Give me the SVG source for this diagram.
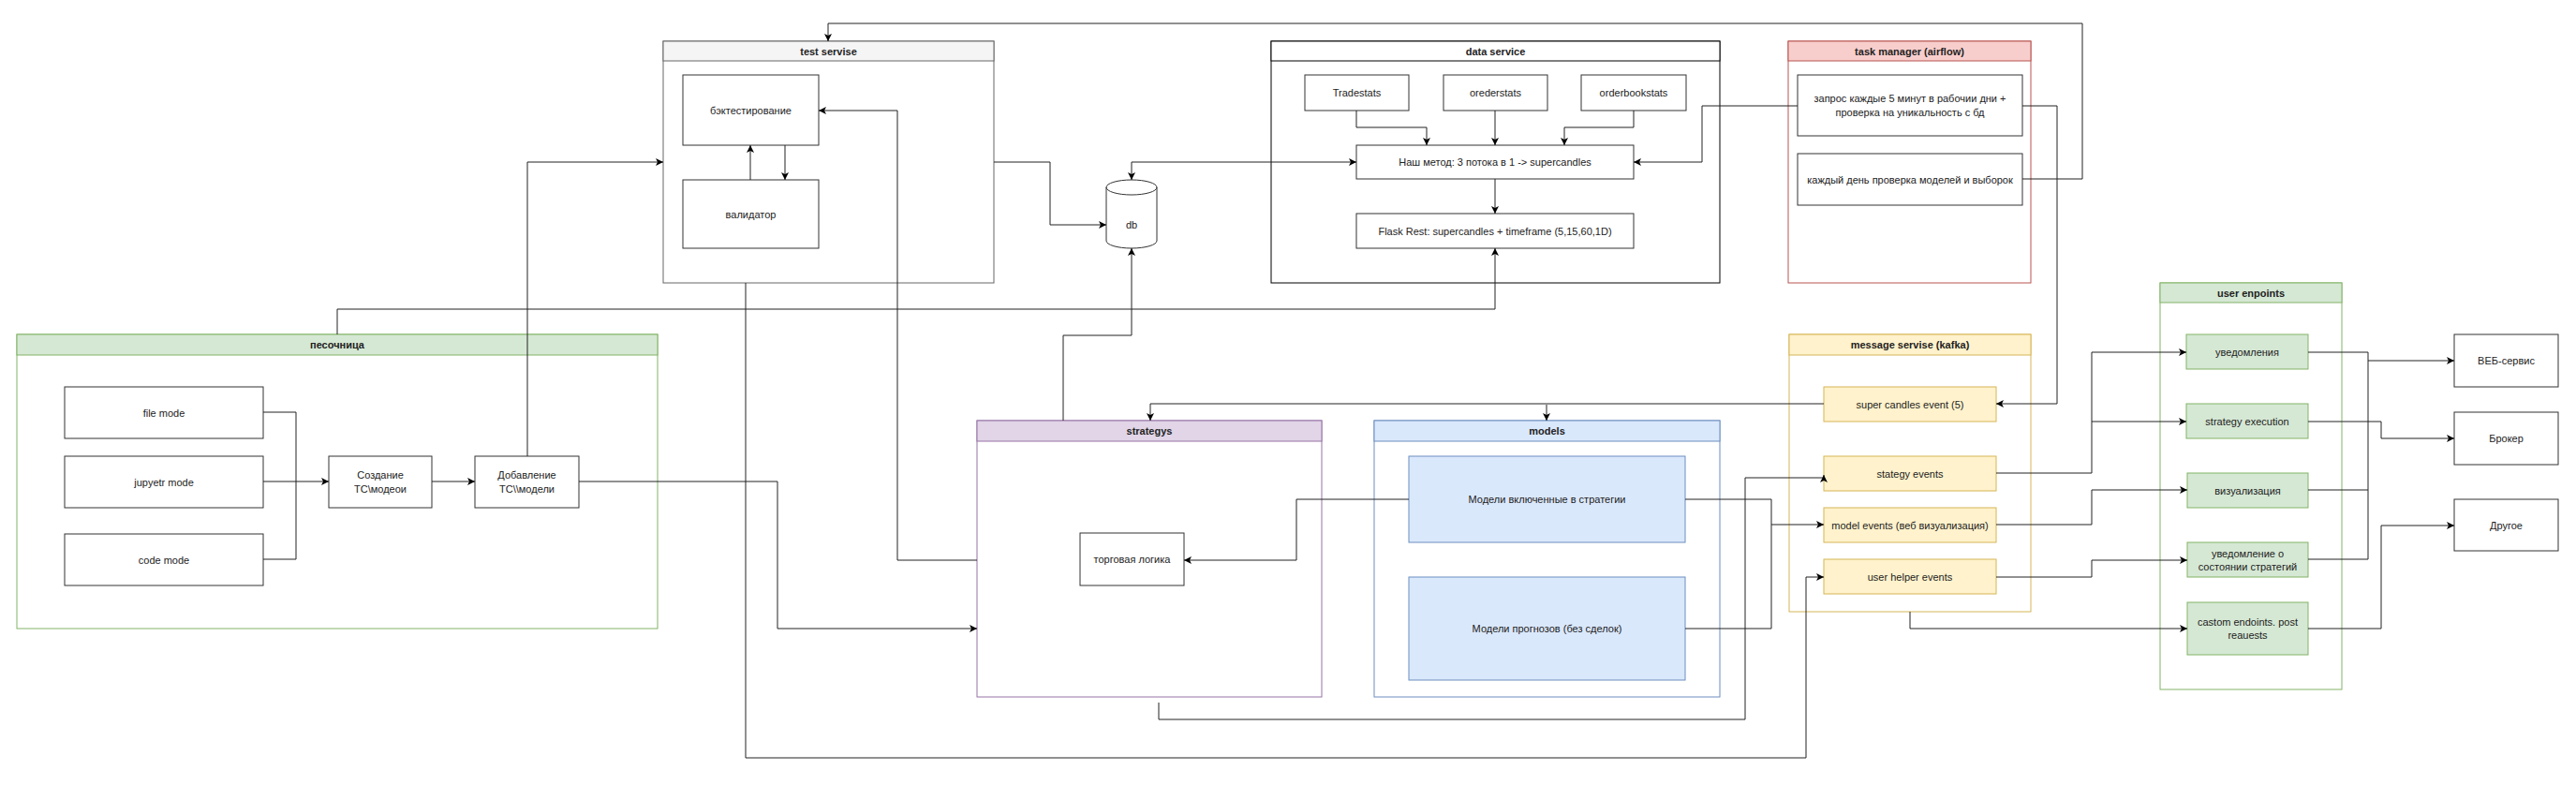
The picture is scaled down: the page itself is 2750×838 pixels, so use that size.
<svg xmlns="http://www.w3.org/2000/svg" width="2750" height="838" viewBox="0 0 2750 838">
<style>
text{font-family:"Liberation Sans",Arial,sans-serif;font-size:11px;fill:#222;text-anchor:middle;dominant-baseline:central}
.h{font-weight:bold}
.box{fill:#fff;stroke:#333;stroke-width:1}
.c path{fill:none;stroke:#222;stroke-width:1;marker-end:url(#a)}
.c path.n{marker-end:none}
.gray{fill:#f5f5f5;stroke:#666}
.plain{fill:#fff;stroke:#000}
.red{fill:#f8cecc;stroke:#b85450}
.green{fill:#d5e8d4;stroke:#82b366}
.purple{fill:#e1d5e7;stroke:#9673a6}
.blue{fill:#dae8fc;stroke:#6c8ebf}
.yellow{fill:#fff2cc;stroke:#d6b656}
.body{fill:#fff}
</style>
<defs>
<marker id="a" markerUnits="userSpaceOnUse" markerWidth="8" markerHeight="8" refX="8" refY="4" orient="auto-start-reverse">
<path d="M0,0 L8,4 L0,8 L2,4 z" fill="#000"/>
</marker>
</defs>
<rect width="2750" height="838" fill="#fff"/>

<g id="test-servise">
<rect x="708" y="44" width="353" height="258" fill="#fff" stroke="#666"/>
<rect x="708" y="44" width="353" height="21" class="gray"/>
<text x="884.5" y="54.5" class="h">test servise</text>
</g>
<g id="backtest"><rect x="729" y="80" width="145" height="75" class="box"/><text x="801.5" y="117.5">бэктестирование</text></g>
<g id="validator"><rect x="729" y="192" width="145" height="73" class="box"/><text x="801.5" y="228.5">валидатор</text></g>

<g id="data-service">
<rect x="1357" y="44" width="479" height="258" fill="#fff" stroke="#000"/>
<rect x="1357" y="44" width="479" height="21" class="plain"/>
<text x="1596.5" y="54.5" class="h">data service</text>
</g>
<g id="tradestats"><rect x="1393" y="80" width="111" height="38" class="box"/><text x="1448.5" y="99">Tradestats</text></g>
<g id="orederstats"><rect x="1541" y="80" width="111" height="38" class="box"/><text x="1596.5" y="99">orederstats</text></g>
<g id="orderbookstats"><rect x="1688" y="80" width="112" height="38" class="box"/><text x="1744" y="99">orderbookstats</text></g>
<g id="method"><rect x="1448" y="155" width="296" height="36" class="box"/><text x="1596" y="173">Наш метод: 3 потока в 1 -&gt; supercandles</text></g>
<g id="flask"><rect x="1448" y="228" width="296" height="37" class="box"/><text x="1596" y="246.5">Flask Rest: supercandles + timeframe (5,15,60,1D)</text></g>

<g id="task-manager">
<rect x="1909" y="44" width="259" height="258" fill="#fff" stroke="#b85450"/>
<rect x="1909" y="44" width="259" height="21" class="red"/>
<text x="2038.5" y="54.5" class="h">task manager (airflow)</text>
</g>
<g id="tm-request"><rect x="1919" y="80" width="240" height="65" class="box"/><text x="2039" y="105">запрос каждые 5 минут в рабочии дни +</text><text x="2039" y="120">проверка на уникальность с бд</text></g>
<g id="tm-daily"><rect x="1919" y="164" width="240" height="55" class="box"/><text x="2039" y="191.5">каждый день проверка моделей и выборок</text></g>

<g id="db">
<path d="M1181,200 A27,8 0 0 1 1235,200 V257 A27,8 0 0 1 1181,257 Z" fill="#fff" stroke="#333"/>
<path d="M1181,200 A27,8 0 0 0 1235,200" fill="none" stroke="#333"/>
<text x="1208" y="240">db</text>
</g>

<g id="pesochnitsa">
<rect x="18" y="357" width="684" height="314" fill="#fff" stroke="#82b366"/>
<rect x="18" y="357" width="684" height="22" class="green"/>
<text x="360" y="368" class="h">песочница</text>
</g>
<g id="file-mode"><rect x="69" y="413" width="212" height="55" class="box"/><text x="175" y="440.5">file mode</text></g>
<g id="jupyetr-mode"><rect x="69" y="487" width="212" height="55" class="box"/><text x="175" y="514.5">jupyetr  mode</text></g>
<g id="code-mode"><rect x="69" y="570" width="212" height="55" class="box"/><text x="175" y="597.5">code mode</text></g>
<g id="create"><rect x="351" y="487" width="110" height="55" class="box"/><text x="406" y="507">Создание</text><text x="406" y="522">ТС\модеои</text></g>
<g id="add"><rect x="507" y="487" width="111" height="55" class="box"/><text x="562.5" y="507">Добавление</text><text x="562.5" y="522">ТС\\модели</text></g>

<g id="strategys">
<rect x="1043" y="449" width="368" height="295" fill="#fff" stroke="#9673a6"/>
<rect x="1043" y="449" width="368" height="22" class="purple"/>
<text x="1227" y="460" class="h">strategys</text>
</g>
<g id="trade-logic"><rect x="1153" y="569" width="111" height="56" class="box"/><text x="1208.5" y="597">торговая логика</text></g>

<g id="models">
<rect x="1467" y="449" width="369" height="295" fill="#fff" stroke="#6c8ebf"/>
<rect x="1467" y="449" width="369" height="22" class="blue"/>
<text x="1651.5" y="460" class="h">models</text>
</g>
<g id="models-in-strategy"><rect x="1504" y="487" width="295" height="92" class="blue"/><text x="1651.5" y="533">Модели включенные в стратегии</text></g>
<g id="models-forecast"><rect x="1504" y="616" width="295" height="110" class="blue"/><text x="1651.5" y="671">Модели прогнозов (без сделок)</text></g>

<g id="kafka">
<rect x="1910" y="357" width="258" height="296" fill="#fff" stroke="#d6b656"/>
<rect x="1910" y="357" width="258" height="22" class="yellow"/>
<text x="2039" y="368" class="h">message servise (kafka)</text>
</g>
<g id="super-candles"><rect x="1947" y="413" width="184" height="37" class="yellow"/><text x="2039" y="431.5">super candles event (5)</text></g>
<g id="stategy-events"><rect x="1947" y="487" width="184" height="37" class="yellow"/><text x="2039" y="505.5">stategy events</text></g>
<g id="model-events"><rect x="1947" y="542" width="184" height="37" class="yellow"/><text x="2039" y="560.5">model events (веб визуализация)</text></g>
<g id="user-helper"><rect x="1947" y="597" width="184" height="37" class="yellow"/><text x="2039" y="615.5">user helper events</text></g>

<g id="user-enpoints">
<rect x="2306" y="302" width="194" height="434" fill="#fff" stroke="#82b366"/>
<rect x="2306" y="302" width="194" height="21" class="green"/>
<text x="2403" y="312.5" class="h">user enpoints</text>
</g>
<g id="notify"><rect x="2334" y="357" width="130" height="37" class="green"/><text x="2399" y="375.5">уведомления</text></g>
<g id="strategy-execution"><rect x="2334" y="431" width="130" height="37" class="green"/><text x="2399" y="449.5">strategy execution</text></g>
<g id="visual"><rect x="2335" y="505" width="129" height="37" class="green"/><text x="2399.5" y="523.5">визуализация</text></g>
<g id="state-notify"><rect x="2335" y="579" width="129" height="37" class="green"/><text x="2399.5" y="590.5">уведомление о</text><text x="2399.5" y="604.5">состоянии стратегий</text></g>
<g id="custom"><rect x="2335" y="643" width="129" height="56" class="green"/><text x="2399.5" y="664">castom endoints. post</text><text x="2399.5" y="678">reauests</text></g>

<g id="web"><rect x="2620" y="357" width="111" height="56" class="box"/><text x="2675.5" y="385">ВЕБ-сервис</text></g>
<g id="broker"><rect x="2620" y="440" width="111" height="56" class="box"/><text x="2675.5" y="468">Брокер</text></g>
<g id="other"><rect x="2620" y="533" width="111" height="55" class="box"/><text x="2675.5" y="560.5">Другое</text></g>

<g id="connectors" class="c">
<path d="M801,192 V155"/>
<path d="M838,155 V192"/>
<path d="M1448,118 V136 H1523 V155"/>
<path d="M1596,118 V155"/>
<path d="M1744,118 V136 H1670 V155"/>
<path d="M1596,191 V228"/>
<path d="M1448,173 H1208 V192" style="marker-start:url(#a)"/>
<path d="M1919,113 H1817 V173 H1744"/>
<path d="M2159,113 H2196 V431 H2131"/>
<path d="M2159,191 H2223 V25 H884 V44"/>
<path d="M1061,173 H1121 V240 H1181"/>
<path d="M360,357 V330 H1596 V265"/>
<path d="M1135,449 V358 H1208 V265"/>
<path d="M281,440 H316 V597 H281" class="n"/>
<path d="M281,514 H351"/>
<path d="M461,514 H507"/>
<path d="M563,487 V173 H708"/>
<path d="M618,514 H830 V671 H1043"/>
<path d="M1043,598 H958 V118 H874"/>
<path d="M1504,533 H1384 V598 H1264"/>
<path d="M1947,431 H1228 V449"/>
<path d="M1651,432 V449"/>
<path d="M1799,533 H1891 V671 H1799" class="n"/>
<path d="M1891,560 H1947"/>
<path d="M1237,750 V768 H1863 V510 H1947 V507"/>
<path d="M796,302 V809 H1928 V616 H1947"/>
<path d="M2131,505 H2233 V376 H2334"/>
<path d="M2233,450 H2334"/>
<path d="M2131,560 H2233 V523 H2335"/>
<path d="M2131,616 H2233 V598 H2335"/>
<path d="M2039,653 V671 H2335"/>
<path d="M2464,376 H2528 V597 H2464" class="n"/>
<path d="M2464,523 H2528" class="n"/>
<path d="M2528,385 H2620"/>
<path d="M2464,450 H2542 V468 H2620"/>
<path d="M2464,671 H2542 V561 H2620"/>
</g>
</svg>
